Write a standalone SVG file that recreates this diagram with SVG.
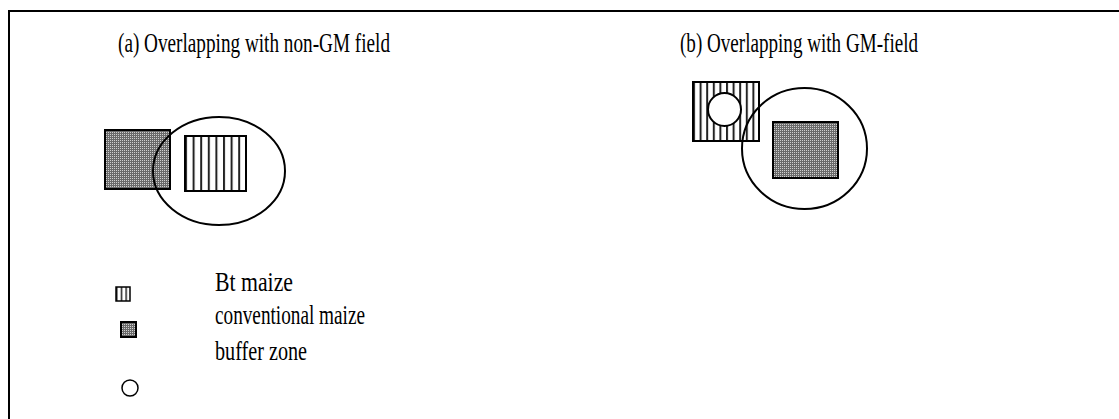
<svg xmlns="http://www.w3.org/2000/svg" width="1119" height="419" viewBox="0 0 1119 419">
<style>
.t{font-family:"Liberation Serif","Times New Roman",serif;font-size:27px;fill:#000}
.bd{stroke:#000;stroke-width:2;fill:none}
.conv{fill:url(#dots);stroke:#000;stroke-width:2}
.bt{fill:url(#stripes);stroke:#000;stroke-width:2}
</style>
<defs>
<pattern id="dots" width="2" height="2" patternUnits="userSpaceOnUse">
<rect width="2" height="2" fill="#6a6a6a"/>
<rect width="1" height="1" fill="#d0d0d0"/>
</pattern>
<pattern id="stripes" x="185" width="7.6" height="10" patternUnits="userSpaceOnUse">
<rect width="7.6" height="10" fill="#fff"/>
<rect x="0" width="2" height="10" fill="#222"/>
</pattern>
<pattern id="stripes2" x="693" width="6.6" height="10" patternUnits="userSpaceOnUse">
<rect width="6.6" height="10" fill="#fff"/>
<rect x="0" width="2" height="10" fill="#222"/>
</pattern>
<pattern id="stripes3" x="116" width="4.7" height="10" patternUnits="userSpaceOnUse">
<rect width="4.7" height="10" fill="#fff"/>
<rect x="0" width="1.5" height="10" fill="#222"/>
</pattern>
</defs>
<rect width="1119" height="419" fill="#fff"/>
<g id="frame">
<path d="M9,419 V11 H1119" stroke="#000" stroke-width="2" fill="none"/>
</g>
<g id="title-a"><text class="t" x="118" y="52" textLength="272" lengthAdjust="spacingAndGlyphs">(a) Overlapping with non-GM field</text></g>
<g id="title-b"><text class="t" x="680" y="52" textLength="238" lengthAdjust="spacingAndGlyphs">(b) Overlapping with GM-field</text></g>
<g id="fig-a">
<rect id="a-conv" class="conv" x="105" y="130" width="65" height="59"/>
<rect id="a-bt" class="bt" x="185" y="136" width="61" height="55"/>
<ellipse id="a-buffer" class="bd" cx="219" cy="171" rx="66" ry="54"/>
</g>
<g id="fig-b">
<rect id="b-bt" x="693" y="82" width="66" height="59" fill="url(#stripes2)" stroke="#000" stroke-width="2"/>
<circle id="b-buffer-small" cx="724.5" cy="109.5" r="16.5" fill="#fff" stroke="#000" stroke-width="2"/>
<rect id="b-conv" class="conv" x="773" y="122" width="65" height="56"/>
<ellipse id="b-buffer" class="bd" cx="804.5" cy="148.5" rx="62.5" ry="60.5"/>
</g>
<g id="legend">
<g id="leg-bt"><rect x="116" y="287" width="14" height="14" fill="url(#stripes3)" stroke="#000" stroke-width="1.5"/>
<text class="t" x="215" y="291" textLength="78" lengthAdjust="spacingAndGlyphs">Bt maize</text></g>
<g id="leg-conv"><rect class="conv" x="121" y="322" width="15" height="15" stroke-width="1.5"/>
<text class="t" x="215" y="324" textLength="150" lengthAdjust="spacingAndGlyphs">conventional maize</text></g>
<g id="leg-buf"><circle cx="130" cy="388" r="8" fill="#fff" stroke="#000" stroke-width="1.5"/>
<text class="t" x="215" y="360" textLength="92" lengthAdjust="spacingAndGlyphs">buffer zone</text></g>
</g>
</svg>
